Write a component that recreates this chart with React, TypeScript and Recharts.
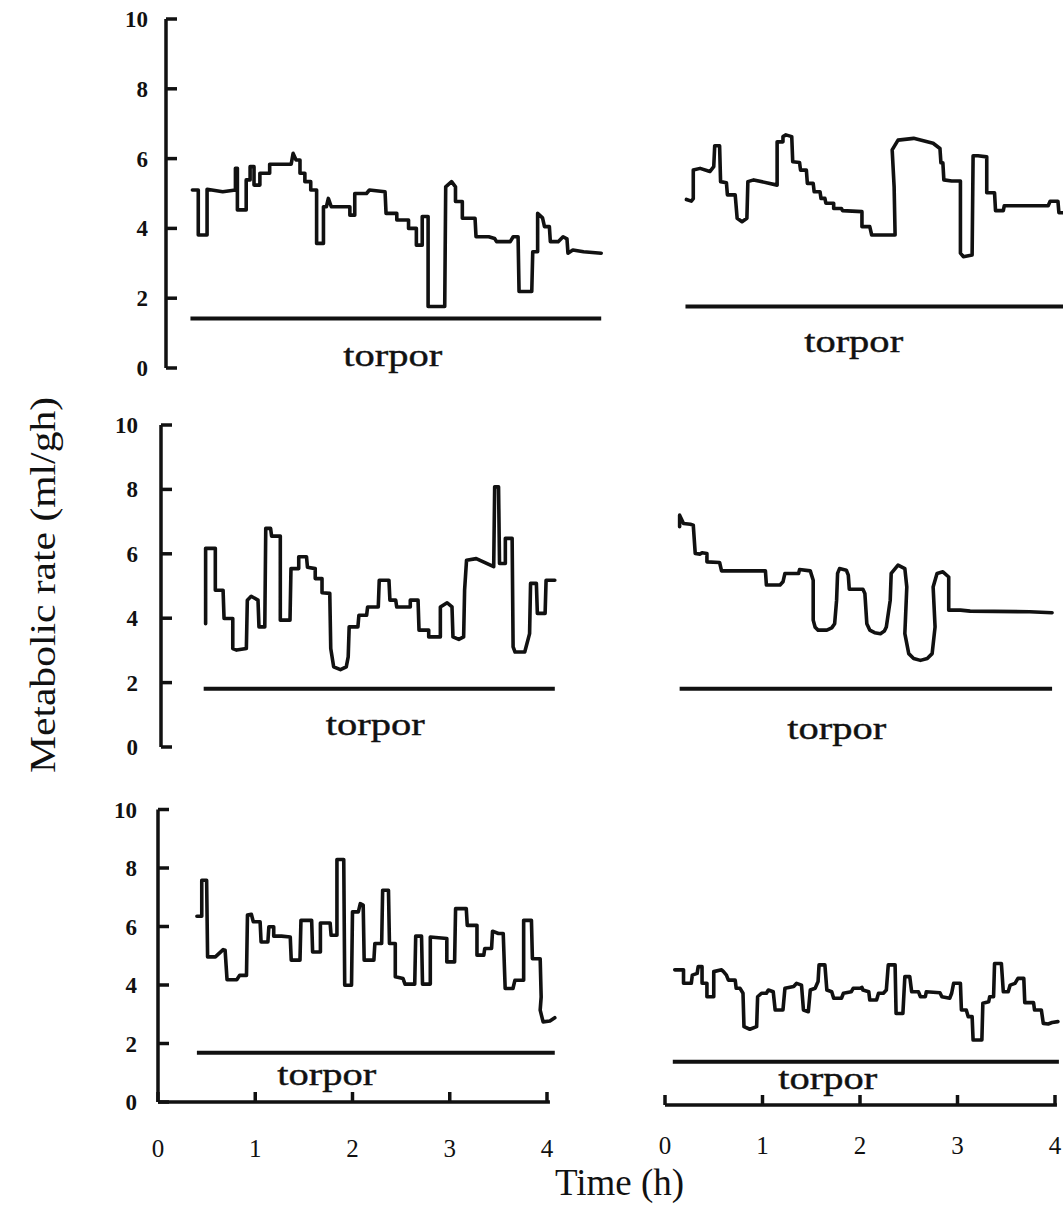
import React from 'react';
import { LineChart, Line, XAxis, YAxis, ReferenceLine } from 'recharts';

const FONT = '"Liberation Serif", "Times New Roman", Times, serif';

// ---------- data (time in h, metabolic rate in ml/gh) ----------
const aTime = [0.27,0.33,0.33,0.42,0.42,0.58,0.71,0.71,0.73,0.73,0.82,0.82,0.86,0.86,0.90,0.90,0.96,0.96,1.06,1.06,1.28,1.30,1.33,1.37,1.37,1.42,1.42,1.48,1.48,1.54,1.54,1.61,1.61,1.64,1.66,1.69,1.88,1.88,1.93,1.93,2.05,2.08,2.24,2.25,2.36,2.36,2.48,2.48,2.56,2.56,2.62,2.62,2.68,2.68,2.85,2.86,2.92,2.96,2.96,3.03,3.03,3.16,3.17,3.30,3.36,3.38,3.52,3.55,3.60,3.61,3.74,3.75,3.80,3.80,3.85,3.87,3.92,3.93,4.01,4.06,4.10,4.11,4.16,4.27,4.45];
const aRate = [5.10,5.10,3.81,3.81,5.12,5.05,5.10,5.72,5.72,4.53,4.53,5.39,5.39,5.77,5.77,5.24,5.24,5.58,5.58,5.84,5.84,6.15,5.96,5.96,5.58,5.58,5.34,5.34,5.10,5.10,3.57,3.57,4.62,4.62,4.86,4.62,4.62,4.38,4.38,5.00,5.00,5.10,5.05,4.43,4.43,4.24,4.24,4.00,4.00,3.52,3.52,4.34,4.34,1.76,1.76,5.19,5.34,5.19,4.77,4.77,4.29,4.29,3.76,3.76,3.71,3.62,3.62,3.76,3.76,2.19,2.19,3.33,3.33,4.43,4.30,4.05,4.05,3.62,3.62,3.76,3.70,3.29,3.38,3.33,3.29];

const bTime = [0.22,0.27,0.29,0.29,0.36,0.46,0.50,0.51,0.56,0.57,0.63,0.64,0.72,0.74,0.79,0.84,0.85,0.91,1.15,1.15,1.21,1.21,1.24,1.30,1.31,1.38,1.39,1.45,1.46,1.52,1.53,1.59,1.60,1.64,1.65,1.73,1.73,1.81,1.82,2.02,2.02,2.10,2.12,2.36,2.35,2.33,2.39,2.55,2.75,2.82,2.83,2.85,2.86,2.94,3.03,3.03,3.06,3.15,3.16,3.21,3.30,3.30,3.38,3.39,3.47,3.48,3.93,3.95,4.03,4.04,4.09];
const bRate = [4.83,4.78,4.85,5.67,5.72,5.63,5.77,6.37,6.37,5.34,5.31,4.96,4.96,4.29,4.19,4.29,5.34,5.39,5.24,6.48,6.48,6.63,6.68,6.63,5.91,5.89,5.67,5.67,5.29,5.29,5.05,5.05,4.86,4.86,4.72,4.72,4.57,4.57,4.51,4.48,4.05,4.05,3.81,3.81,5.19,6.25,6.53,6.58,6.44,6.29,5.88,5.88,5.39,5.36,5.36,3.29,3.19,3.24,6.08,6.08,6.05,5.02,5.02,4.51,4.51,4.65,4.65,4.78,4.78,4.45,4.45];

const cTime = [0.46,0.46,0.56,0.56,0.64,0.65,0.74,0.74,0.78,0.88,0.89,0.93,1.00,1.01,1.07,1.08,1.13,1.14,1.23,1.23,1.33,1.34,1.42,1.42,1.50,1.51,1.59,1.59,1.66,1.66,1.74,1.75,1.78,1.85,1.91,1.93,1.94,2.03,2.04,2.12,2.13,2.24,2.25,2.35,2.36,2.42,2.43,2.57,2.57,2.65,2.66,2.76,2.76,2.88,2.88,2.95,3.00,3.01,3.07,3.12,3.13,3.15,3.25,3.43,3.44,3.48,3.49,3.55,3.55,3.62,3.63,3.65,3.75,3.80,3.81,3.87,3.88,3.96,3.97,4.06];
const cRate = [3.83,6.17,6.17,4.87,4.87,3.99,3.99,3.06,3.01,3.06,4.56,4.68,4.56,3.73,3.73,6.79,6.79,6.55,6.55,3.94,3.94,5.54,5.54,5.91,5.91,5.58,5.54,5.23,5.23,4.79,4.77,3.06,2.49,2.40,2.49,2.80,3.73,3.73,4.09,4.09,4.35,4.35,5.18,5.18,4.56,4.56,4.35,4.35,4.56,4.56,3.63,3.63,3.42,3.42,4.35,4.48,4.35,3.42,3.34,3.42,4.87,5.80,5.85,5.60,8.08,8.08,5.70,5.70,6.48,6.48,3.11,2.95,2.95,3.52,5.08,5.08,4.15,4.15,5.18,5.18];

const dTime = [0.15,0.15,0.19,0.26,0.29,0.31,0.36,0.38,0.43,0.43,0.56,0.58,1.03,1.04,1.18,1.21,1.23,1.37,1.38,1.49,1.52,1.52,1.54,1.57,1.66,1.71,1.74,1.76,1.77,1.79,1.86,1.88,1.89,2.03,2.05,2.07,2.10,2.15,2.21,2.25,2.27,2.31,2.32,2.39,2.46,2.48,2.46,2.50,2.55,2.62,2.69,2.74,2.77,2.75,2.79,2.85,2.91,2.91,3.03,3.13,3.74,3.97];
const dRate = [6.84,7.20,6.94,6.92,6.89,6.01,5.99,6.03,6.01,5.75,5.73,5.47,5.47,5.03,5.03,5.13,5.39,5.39,5.51,5.47,5.18,3.94,3.72,3.63,3.63,3.70,3.83,4.56,5.39,5.54,5.49,5.34,4.90,4.90,4.77,3.83,3.63,3.55,3.52,3.60,3.73,4.56,5.39,5.65,5.54,4.97,3.52,2.90,2.75,2.69,2.75,2.90,3.73,4.97,5.39,5.44,5.28,4.25,4.25,4.22,4.20,4.17];

const eTime = [0.40,0.45,0.45,0.50,0.51,0.59,0.67,0.69,0.71,0.81,0.84,0.91,0.92,0.96,0.98,1.05,1.06,1.13,1.14,1.19,1.19,1.27,1.36,1.37,1.46,1.47,1.58,1.59,1.67,1.67,1.77,1.78,1.84,1.84,1.91,1.92,1.99,2.00,2.06,2.08,2.11,2.12,2.22,2.23,2.30,2.31,2.37,2.38,2.44,2.44,2.52,2.54,2.64,2.65,2.71,2.72,2.80,2.80,2.97,2.97,3.05,3.06,3.17,3.18,3.28,3.28,3.35,3.36,3.43,3.44,3.50,3.55,3.57,3.65,3.67,3.76,3.76,3.84,3.85,3.93,3.94,3.93,3.96,4.03,4.08];
const eRate = [6.35,6.35,7.58,7.58,4.96,4.96,5.21,5.19,4.18,4.18,4.33,4.33,6.39,6.42,6.16,6.16,5.47,5.47,5.99,5.99,5.67,5.67,5.64,4.85,4.85,6.21,6.21,5.13,5.13,6.12,6.12,5.70,5.70,8.29,8.29,3.99,3.99,6.50,6.50,6.78,6.73,4.85,4.85,5.42,5.42,7.24,7.24,5.42,5.42,4.28,4.22,4.03,4.03,5.67,5.67,4.03,4.03,5.64,5.59,4.79,4.79,6.61,6.61,6.04,6.04,5.02,5.02,5.25,5.25,5.84,5.76,5.76,3.88,3.88,4.16,4.16,6.21,6.21,4.90,4.90,3.59,3.14,2.74,2.77,2.88];

const fTime = [0.10,0.19,0.19,0.27,0.28,0.33,0.34,0.38,0.38,0.43,0.43,0.50,0.50,0.58,0.60,0.63,0.65,0.72,0.73,0.77,0.80,0.81,0.87,0.94,0.95,0.99,1.04,1.06,1.11,1.13,1.21,1.23,1.32,1.35,1.40,1.42,1.47,1.49,1.54,1.57,1.58,1.64,1.66,1.71,1.73,1.81,1.83,1.91,1.93,2.00,2.02,2.03,2.09,2.10,2.17,2.19,2.24,2.27,2.29,2.36,2.37,2.44,2.46,2.51,2.53,2.60,2.62,2.67,2.68,2.82,2.84,2.92,2.94,2.96,3.03,3.04,3.09,3.11,3.15,3.16,3.25,3.26,3.32,3.33,3.37,3.38,3.45,3.47,3.52,3.54,3.59,3.62,3.68,3.69,3.78,3.79,3.86,3.88,3.93,3.97,4.03];
const fRate = [4.62,4.62,4.16,4.16,4.44,4.50,4.73,4.73,4.16,4.16,3.70,3.70,4.56,4.62,4.56,4.44,4.27,4.27,3.99,3.99,3.82,2.68,2.59,2.68,3.70,3.82,3.82,3.93,3.87,3.25,3.25,3.99,4.05,4.16,4.10,3.25,3.19,3.93,3.99,4.22,4.79,4.79,3.93,3.87,3.65,3.65,3.82,3.87,3.99,3.99,4.02,3.93,3.87,3.59,3.59,3.82,3.82,3.93,4.79,4.79,3.13,3.13,4.39,4.39,3.87,3.87,3.70,3.70,3.87,3.84,3.70,3.65,3.82,4.16,4.16,3.25,3.25,3.02,3.02,2.22,2.22,3.48,3.53,3.70,3.70,4.84,4.84,3.87,3.87,4.10,4.16,4.33,4.33,3.50,3.50,3.25,3.25,2.79,2.77,2.82,2.85];

// torpor bars: start (h), end (h), level (ml/gh), one entry per panel
const torporStart = [0.25, 0.21, 0.44, 0.15, 0.40, 0.08];
const torporEnd = [4.45, 4.09, 4.06, 3.97, 4.08, 4.04];
const torporLevel = [1.42, 1.76, 1.81, 1.81, 1.68, 1.48];

const yTicks = [0, 2, 4, 6, 8, 10];
const xTicks = [0, 1, 2, 3, 4];
const xAxisEnd = [4.03, 4.02];

const series = [
  [aTime, aRate], [bTime, bRate], [cTime, cRate],
  [dTime, dRate], [eTime, eRate], [fTime, fRate],
];

// ---------- layout (page pixels) ----------
type Layout = {
  x0: number; pxPerH: number; xMax: number; yTop: number; yBottom: number; chartTop: number;
  showY: boolean; yGap: number; showX: boolean; xLabelDy: number; axisIdx: number;
  labelDx: number; labelDy: number;
};

const layouts: Layout[] = [
  { x0: 166, pxPerH: 97.8, xMax: 4.5, yTop: 19, yBottom: 368, chartTop: 0, showY: true, yGap: 18, showX: false, xLabelDy: 0, axisIdx: -1, labelDx: -3, labelDy: 48 },
  { x0: 665, pxPerH: 97.5, xMax: 4.1, yTop: 19, yBottom: 368, chartTop: 0, showY: false, yGap: 0, showX: false, xLabelDy: 0, axisIdx: -1, labelDx: -21, labelDy: 45 },
  { x0: 161, pxPerH: 97, xMax: 4.1, yTop: 425, yBottom: 747, chartTop: 400, showY: true, yGap: 23, showX: false, xLabelDy: 0, axisIdx: -1, labelDx: -4, labelDy: 46 },
  { x0: 665, pxPerH: 97.5, xMax: 4.1, yTop: 425, yBottom: 747, chartTop: 400, showY: false, yGap: 0, showX: false, xLabelDy: 0, axisIdx: -1, labelDx: -29, labelDy: 50 },
  { x0: 158, pxPerH: 97.25, xMax: 4.1, yTop: 809.5, yBottom: 1102, chartTop: 785, showY: true, yGap: 21, showX: true, xLabelDy: 55, axisIdx: 0, labelDx: -49, labelDy: 32 },
  { x0: 665, pxPerH: 97.5, xMax: 4.1, yTop: 812.5, yBottom: 1105, chartTop: 785, showY: false, yGap: 0, showX: true, xLabelDy: 49, axisIdx: 1, labelDx: -38, labelDy: 27 },
];

const Y_AXIS_W = 60;
const PAD_LEFT = 20;
const X_AXIS_H = 70;
const INK = '#111';

const makeYTick = (gap: number) => (props: any) => {
  const { x, y, payload } = props;
  return (
    <g>
      <line x1={x} y1={y} x2={x + 11} y2={y} stroke={INK} strokeWidth={3.5} />
      <text x={x - gap} y={y} dy="0.35em" textAnchor="end" fontFamily={FONT} fontWeight="bold" fontSize={23} fill={INK}>
        {payload.value}
      </text>
    </g>
  );
};

const makeXTick = (dy: number) => (props: any) => {
  const { x, y, payload } = props;
  return (
    <g>
      <line x1={x} y1={y} x2={x} y2={y - 10} stroke={INK} strokeWidth={3.5} />
      <text x={x} y={y + dy} textAnchor="middle" fontFamily={FONT} fontSize={25} fill={INK}>
        {payload.value}
      </text>
    </g>
  );
};

const makeTorporLabel = (dx: number, dy: number) => (props: any) => {
  const vb = props.viewBox || {};
  const x1 = vb.x ?? vb.x1 ?? 0;
  const w = vb.width ?? ((vb.x2 ?? x1) - x1);
  const y = vb.y ?? vb.y1 ?? 0;
  return (
    <text x={x1 + w / 2 + dx} y={y + dy} textAnchor="middle" fontFamily={FONT} fontSize={31}
      textLength={99} lengthAdjust="spacingAndGlyphs" fill={INK} stroke={INK} strokeWidth={0.4}>
      torpor
    </text>
  );
};

function Panel({ idx }: { idx: number }) {
  const L = layouts[idx];
  const [times, rates] = series[idx];
  const rows = times.map((t, i) => ({ t, v: rates[i] }));
  const yw = L.showY ? Y_AXIS_W : PAD_LEFT;
  const plotW = L.xMax * L.pxPerH;
  const plotH = L.yBottom - L.yTop;
  const marginTop = L.yTop - L.chartTop;
  const bottomSpace = L.showX ? X_AXIS_H : 60;
  const width = yw + plotW + 10;
  const height = marginTop + plotH + bottomSpace;
  return (
    <div style={{ position: 'absolute', left: L.x0 - yw, top: L.chartTop }}>
      <LineChart width={width} height={height} data={rows}
        margin={{ top: marginTop, right: 10, left: L.showY ? 0 : PAD_LEFT, bottom: L.showX ? 0 : bottomSpace }}>
        <XAxis type="number" dataKey="t" domain={[0, L.xMax]} ticks={xTicks} interval={0}
          hide={!L.showX} height={X_AXIS_H} axisLine={false} tickLine={false}
          tickSize={0} tickMargin={0} tick={makeXTick(L.xLabelDy)} />
        <YAxis type="number" domain={[0, 10]} ticks={yTicks} interval={0} hide={!L.showY}
          width={Y_AXIS_W} axisLine={{ stroke: INK, strokeWidth: 3.5 }} tickLine={false}
          tickSize={0} tickMargin={0} tick={makeYTick(L.yGap)} />
        {L.axisIdx >= 0 && (
          <ReferenceLine segment={[{ x: 0, y: 0 }, { x: xAxisEnd[L.axisIdx], y: 0 }]}
            stroke={INK} strokeWidth={3.5} ifOverflow="visible" />
        )}
        <ReferenceLine
          segment={[{ x: torporStart[idx], y: torporLevel[idx] }, { x: torporEnd[idx], y: torporLevel[idx] }]}
          stroke={INK} strokeWidth={4} ifOverflow="visible"
          label={makeTorporLabel(L.labelDx, L.labelDy)} />
        <Line type="linear" dataKey="v" stroke={INK} strokeWidth={3.6} dot={false}
          activeDot={false} isAnimationActive={false} strokeLinejoin="round" strokeLinecap="round" />
      </LineChart>
    </div>
  );
}

export default function App() {
  return (
    <div style={{ position: 'absolute', left: 0, top: 0, width: 1063, height: 1209, overflow: 'hidden', background: '#fff' }}>
      {layouts.map((_, i) => <Panel key={i} idx={i} />)}
      <svg width={1063} height={1209} style={{ position: 'absolute', left: 0, top: 0, pointerEvents: 'none' }}>
        <text transform="translate(55,585) rotate(-90)" textAnchor="middle" fontFamily={FONT} fontSize={35}
          textLength={376} lengthAdjust="spacingAndGlyphs" fill={INK}>
          Metabolic rate (ml/gh)
        </text>
        <text x={619.5} y={1195} textAnchor="middle" fontFamily={FONT} fontSize={37}
          textLength={129} lengthAdjust="spacingAndGlyphs" fill={INK}>
          Time (h)
        </text>
      </svg>
    </div>
  );
}
